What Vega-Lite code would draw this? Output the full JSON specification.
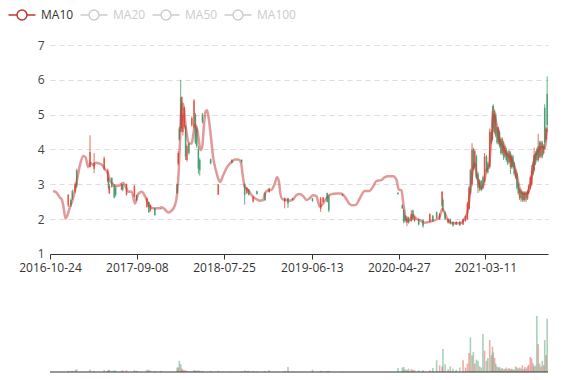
{
  "$schema": "https://vega.github.io/schema/vega-lite/v6.json",
  "width": 498,
  "height": 327,
  "autosize": {"type": "none"},
  "padding": {"left": 50, "top": 45, "right": 29, "bottom": 8},
  "config": {"view": {"stroke": null}, "font": "Open Sans"},
  "datasets": {
    "ma": [
      {"d":"2016-11-04","ma":2.81},{"d":"2016-11-17","ma":2.76},{"d":"2016-11-29","ma":2.62},{"d":"2016-12-06","ma":2.57},{"d":"2016-12-12","ma":2.38},{"d":"2016-12-20","ma":2.02},{"d":"2016-12-26","ma":2.09},
      {"d":"2017-01-05","ma":2.34},{"d":"2017-01-17","ma":2.6},{"d":"2017-01-30","ma":3.07},{"d":"2017-02-11","ma":3.55},{"d":"2017-02-23","ma":3.81},{"d":"2017-03-04","ma":3.77},{"d":"2017-03-13","ma":3.5},{"d":"2017-03-22","ma":3.62},{"d":"2017-04-01","ma":3.55},{"d":"2017-04-10","ma":3.62},{"d":"2017-04-22","ma":3.6},{"d":"2017-05-04","ma":3.55},{"d":"2017-05-14","ma":3.43},{"d":"2017-05-24","ma":3.33},{"d":"2017-06-01","ma":3.12},{"d":"2017-06-13","ma":3.0},{"d":"2017-06-26","ma":2.95},{"d":"2017-07-08","ma":2.98},{"d":"2017-07-20","ma":3.04},{"d":"2017-07-29","ma":2.93},{"d":"2017-08-07","ma":2.79},{"d":"2017-08-20","ma":2.79},{"d":"2017-09-01","ma":2.45},{"d":"2017-09-13","ma":2.72},{"d":"2017-09-26","ma":2.79},{"d":"2017-10-08","ma":2.66},{"d":"2017-10-14","ma":2.55},{"d":"2017-10-26","ma":2.36},{"d":"2017-11-07","ma":2.31},{"d":"2017-11-26","ma":2.31},{"d":"2017-12-08","ma":2.34},{"d":"2017-12-20","ma":2.28},
      {"d":"2018-01-01","ma":2.19},{"d":"2018-01-13","ma":2.24},{"d":"2018-01-26","ma":2.4},{"d":"2018-02-03","ma":2.74},{"d":"2018-02-09","ma":3.41},{"d":"2018-02-13","ma":4.17},{"d":"2018-02-17","ma":4.93},{"d":"2018-02-22","ma":5.32},{"d":"2018-02-27","ma":5.22},{"d":"2018-03-04","ma":4.84},{"d":"2018-03-10","ma":4.46},{"d":"2018-03-18","ma":4.17},{"d":"2018-03-28","ma":4.17},{"d":"2018-04-03","ma":4.41},{"d":"2018-04-09","ma":4.7},{"d":"2018-04-15","ma":4.65},{"d":"2018-04-21","ma":4.41},{"d":"2018-04-30","ma":3.98},{"d":"2018-05-06","ma":4.07},{"d":"2018-05-12","ma":4.65},{"d":"2018-05-18","ma":5.08},{"d":"2018-05-24","ma":5.13},{"d":"2018-05-30","ma":4.89},{"d":"2018-06-07","ma":4.36},{"d":"2018-06-15","ma":3.79},{"d":"2018-06-25","ma":3.41},{"d":"2018-07-06","ma":3.12},{"d":"2018-07-11","ma":3.07},{"d":"2018-07-22","ma":3.26},{"d":"2018-08-06","ma":3.5},{"d":"2018-08-22","ma":3.64},{"d":"2018-09-03","ma":3.71},{"d":"2018-09-15","ma":3.71},{"d":"2018-09-25","ma":3.64},{"d":"2018-10-01","ma":3.31},{"d":"2018-10-09","ma":2.93},{"d":"2018-10-22","ma":2.83},{"d":"2018-10-30","ma":2.74},{"d":"2018-11-09","ma":2.64},{"d":"2018-11-22","ma":2.57},{"d":"2018-12-04","ma":2.53},{"d":"2018-12-16","ma":2.55},{"d":"2018-12-22","ma":2.74},
      {"d":"2019-01-03","ma":2.83},{"d":"2019-01-16","ma":2.85},{"d":"2019-01-28","ma":3.03},{"d":"2019-02-05","ma":3.2},{"d":"2019-02-12","ma":3.07},{"d":"2019-02-17","ma":2.74},{"d":"2019-02-25","ma":2.57},{"d":"2019-03-12","ma":2.55},{"d":"2019-03-24","ma":2.53},{"d":"2019-04-05","ma":2.57},{"d":"2019-04-17","ma":2.69},{"d":"2019-04-29","ma":2.72},{"d":"2019-05-12","ma":2.66},{"d":"2019-05-24","ma":2.55},{"d":"2019-06-05","ma":2.6},{"d":"2019-06-17","ma":2.69},{"d":"2019-06-29","ma":2.66},{"d":"2019-07-12","ma":2.36},{"d":"2019-07-24","ma":2.45},{"d":"2019-08-05","ma":2.6},{"d":"2019-08-24","ma":2.72},{"d":"2019-09-11","ma":2.74},{"d":"2019-09-29","ma":2.74},{"d":"2019-10-12","ma":2.64},{"d":"2019-10-30","ma":2.43},{"d":"2019-11-11","ma":2.4},{"d":"2019-11-23","ma":2.42},{"d":"2019-12-06","ma":2.6},{"d":"2019-12-24","ma":2.81},
      {"d":"2020-01-11","ma":2.81},{"d":"2020-01-23","ma":2.93},{"d":"2020-02-05","ma":3.1},{"d":"2020-02-23","ma":3.12},{"d":"2020-03-06","ma":3.2},{"d":"2020-03-19","ma":3.23},{"d":"2020-04-06","ma":3.23},{"d":"2020-04-18","ma":3.14},{"d":"2020-04-27","ma":2.85},{"d":"2020-05-07","ma":2.83},{"d":"2020-05-12","ma":2.55},{"d":"2020-05-19","ma":2.17},{"d":"2020-05-25","ma":1.97},{"d":"2020-06-06","ma":1.97},{"d":"2020-06-18","ma":2.12},{"d":"2020-06-30","ma":2.02},{"d":"2020-07-13","ma":1.97},{"d":"2020-07-31","ma":1.9},{"d":"2020-08-19","ma":1.93},{"d":"2020-09-06","ma":1.97},{"d":"2020-09-24","ma":2.07},{"d":"2020-10-04","ma":2.3},{"d":"2020-10-13","ma":2.17},{"d":"2020-10-25","ma":1.97},{"d":"2020-11-12","ma":1.88},{"d":"2020-12-07","ma":1.88},{"d":"2020-12-25","ma":2.02},
      {"d":"2021-01-06","ma":2.26},{"d":"2021-01-15","ma":2.83},{"d":"2021-01-24","ma":3.41},{"d":"2021-01-31","ma":3.6},{"d":"2021-02-08","ma":3.21},{"d":"2021-02-16","ma":3.03},{"d":"2021-02-24","ma":2.88},{"d":"2021-03-06","ma":3.03},{"d":"2021-03-15","ma":3.41},{"d":"2021-03-24","ma":3.5},{"d":"2021-04-02","ma":4.36},{"d":"2021-04-08","ma":4.98},{"d":"2021-04-14","ma":4.93},{"d":"2021-04-23","ma":4.65},{"d":"2021-05-02","ma":4.27},{"d":"2021-05-15","ma":4.07},{"d":"2021-05-27","ma":3.88},{"d":"2021-06-08","ma":3.79},{"d":"2021-06-20","ma":3.64},{"d":"2021-07-03","ma":3.31},{"d":"2021-07-15","ma":2.88},{"d":"2021-07-27","ma":2.74},{"d":"2021-08-10","ma":2.74},{"d":"2021-08-20","ma":2.88},{"d":"2021-08-30","ma":3.31},{"d":"2021-09-08","ma":3.79},{"d":"2021-09-16","ma":3.88},{"d":"2021-09-26","ma":4.03},{"d":"2021-10-06","ma":4.07},{"d":"2021-10-15","ma":4.03},{"d":"2021-10-23","ma":4.6}
    ],
    "k": [
      {"d":"2016-12-30","o":2.4,"c":2.7,"h":2.72,"l":2.35,"v":2},
      {"d":"2017-01-09","o":2.55,"c":2.4,"h":2.6,"l":2.35,"v":1},
      {"d":"2017-01-14","o":2.8,"c":2.6,"h":2.85,"l":2.55,"v":2},
      {"d":"2017-01-24","o":2.8,"c":3.0,"h":3.05,"l":2.75,"v":3},
      {"d":"2017-01-30","o":3.4,"c":2.95,"h":3.45,"l":2.9,"v":5},
      {"d":"2017-03-20","o":3.5,"c":3.93,"h":4.41,"l":3.48,"v":4},
      {"d":"2017-04-04","o":3.45,"c":3.62,"h":3.9,"l":3.32,"v":2},
      {"d":"2017-05-11","o":3.45,"c":3.75,"h":3.8,"l":3.4,"v":3},
      {"d":"2017-05-24","o":3.1,"c":3.4,"h":3.45,"l":3.05,"v":2},
      {"d":"2017-05-27","o":3.18,"c":2.9,"h":3.2,"l":2.85,"v":3},
      {"d":"2017-05-30","o":2.75,"c":2.95,"h":3.0,"l":2.72,"v":4},
      {"d":"2017-06-08","o":3.18,"c":2.92,"h":3.2,"l":2.9,"v":2},
      {"d":"2017-06-17","o":2.98,"c":2.62,"h":3.0,"l":2.6,"v":3},
      {"d":"2017-06-22","o":2.9,"c":2.7,"h":2.95,"l":2.65,"v":2},
      {"d":"2017-07-14","o":2.85,"c":3.0,"h":3.02,"l":2.83,"v":2},
      {"d":"2017-07-18","o":3.0,"c":2.85,"h":3.0,"l":2.8,"v":3},
      {"d":"2017-08-01","o":2.7,"c":3.0,"h":3.02,"l":2.68,"v":3},
      {"d":"2017-08-30","o":2.65,"c":2.95,"h":2.98,"l":2.62,"v":3},
      {"d":"2017-09-07","o":2.69,"c":2.55,"h":2.7,"l":2.52,"v":2},
      {"d":"2017-10-15","o":2.35,"c":2.6,"h":2.62,"l":2.33,"v":4},
      {"d":"2017-10-22","o":2.49,"c":2.2,"h":2.5,"l":2.18,"v":4},
      {"d":"2017-10-28","o":2.25,"c":2.4,"h":2.42,"l":2.22,"v":2},
      {"d":"2017-11-13","o":2.31,"c":2.12,"h":2.32,"l":2.1,"v":2},
      {"d":"2017-12-05","o":2.3,"c":2.29,"h":2.31,"l":2.28,"v":2},
      {"d":"2018-02-03","o":3.0,"c":2.75,"h":3.02,"l":2.72,"v":8},
      {"d":"2018-02-07","o":3.6,"c":3.9,"h":3.95,"l":3.55,"v":8},
      {"d":"2018-02-11","o":4.6,"c":4.3,"h":4.65,"l":4.25,"v":20},
      {"d":"2018-02-16","o":5.5,"c":4.6,"h":6.0,"l":4.5,"v":14},
      {"d":"2018-02-20","o":4.6,"c":5.5,"h":5.52,"l":4.5,"v":6},
      {"d":"2018-02-24","o":4.5,"c":5.0,"h":5.05,"l":4.4,"v":4},
      {"d":"2018-03-01","o":4.65,"c":5.2,"h":5.22,"l":4.6,"v":3},
      {"d":"2018-03-06","o":4.65,"c":3.8,"h":4.7,"l":3.7,"v":3},
      {"d":"2018-03-11","o":3.7,"c":4.1,"h":4.15,"l":3.65,"v":2},
      {"d":"2018-03-18","o":4.17,"c":3.9,"h":4.2,"l":3.85,"v":2},
      {"d":"2018-03-29","o":4.7,"c":4.9,"h":4.95,"l":4.65,"v":2},
      {"d":"2018-04-06","o":4.65,"c":5.4,"h":5.45,"l":4.6,"v":3},
      {"d":"2018-04-11","o":5.0,"c":4.2,"h":5.05,"l":4.15,"v":3},
      {"d":"2018-04-16","o":4.6,"c":4.1,"h":4.65,"l":4.05,"v":2},
      {"d":"2018-04-22","o":4.0,"c":3.45,"h":4.1,"l":3.3,"v":3},
      {"d":"2018-04-27","o":3.7,"c":3.4,"h":3.75,"l":3.25,"v":2},
      {"d":"2018-05-07","o":5.0,"c":4.8,"h":5.05,"l":4.75,"v":2},
      {"d":"2018-06-06","o":3.72,"c":3.6,"h":3.74,"l":3.58,"v":2},
      {"d":"2018-07-04","o":2.7,"c":3.0,"h":3.0,"l":2.7,"v":2},
      {"d":"2018-08-23","o":3.7,"c":3.63,"h":3.72,"l":3.6,"v":1},
      {"d":"2018-09-28","o":3.7,"c":3.65,"h":3.72,"l":3.62,"v":1},
      {"d":"2018-10-09","o":3.0,"c":2.7,"h":3.03,"l":2.42,"v":3},
      {"d":"2018-10-17","o":2.75,"c":2.9,"h":2.92,"l":2.72,"v":2},
      {"d":"2018-10-24","o":2.85,"c":2.7,"h":2.87,"l":2.68,"v":2},
      {"d":"2018-11-09","o":2.5,"c":2.64,"h":2.66,"l":2.48,"v":2},
      {"d":"2018-11-23","o":2.8,"c":2.72,"h":2.82,"l":2.7,"v":1},
      {"d":"2018-12-23","o":2.75,"c":2.55,"h":2.77,"l":2.52,"v":2},
      {"d":"2019-01-07","o":2.78,"c":2.88,"h":2.9,"l":2.76,"v":3},
      {"d":"2019-03-05","o":2.5,"c":2.6,"h":2.62,"l":2.31,"v":2},
      {"d":"2019-03-17","o":2.6,"c":2.45,"h":2.62,"l":2.32,"v":9},
      {"d":"2019-04-03","o":2.6,"c":2.56,"h":2.61,"l":2.54,"v":1},
      {"d":"2019-06-15","o":2.6,"c":2.52,"h":2.61,"l":2.5,"v":4},
      {"d":"2019-07-15","o":2.3,"c":2.6,"h":2.64,"l":2.21,"v":2},
      {"d":"2019-07-24","o":2.5,"c":2.62,"h":2.63,"l":2.48,"v":1},
      {"d":"2019-08-08","o":2.75,"c":2.5,"h":2.76,"l":2.48,"v":2},
      {"d":"2019-08-14","o":2.65,"c":2.25,"h":2.7,"l":2.2,"v":2},
      {"d":"2019-10-03","o":2.72,"c":2.68,"h":2.73,"l":2.66,"v":1},
      {"d":"2020-04-24","o":2.75,"c":2.72,"h":2.78,"l":2.7,"v":7},
      {"d":"2020-05-10","o":2.4,"c":2.31,"h":2.42,"l":2.3,"v":8},
      {"d":"2020-05-15","o":2.26,"c":1.93,"h":2.3,"l":1.88,"v":9},
      {"d":"2020-05-20","o":2.1,"c":1.95,"h":2.12,"l":1.9,"v":5},
      {"d":"2020-05-27","o":1.9,"c":2.05,"h":2.09,"l":1.8,"v":4},
      {"d":"2020-06-02","o":2.05,"c":1.9,"h":2.07,"l":1.87,"v":6},
      {"d":"2020-06-12","o":1.95,"c":2.15,"h":2.26,"l":1.93,"v":5},
      {"d":"2020-06-18","o":2.25,"c":2.0,"h":2.27,"l":1.97,"v":4},
      {"d":"2020-06-24","o":1.95,"c":2.05,"h":2.08,"l":1.93,"v":3},
      {"d":"2020-07-09","o":2.0,"c":1.85,"h":2.02,"l":1.82,"v":3},
      {"d":"2020-07-25","o":1.97,"c":1.8,"h":2.0,"l":1.75,"v":3},
      {"d":"2020-08-19","o":1.93,"c":2.15,"h":2.17,"l":1.9,"v":3},
      {"d":"2020-08-30","o":2.1,"c":1.95,"h":2.12,"l":1.92,"v":7},
      {"d":"2020-09-13","o":2.2,"c":2.05,"h":2.22,"l":2.02,"v":21},
      {"d":"2020-09-24","o":2.0,"c":2.15,"h":2.17,"l":1.98,"v":12},
      {"d":"2020-10-03","o":2.4,"c":2.79,"h":2.8,"l":2.35,"v":10},
      {"d":"2020-10-06","o":2.55,"c":2.25,"h":2.6,"l":2.22,"v":41},
      {"d":"2020-10-14","o":2.2,"c":2.0,"h":2.22,"l":1.97,"v":14},
      {"d":"2020-10-25","o":1.9,"c":2.0,"h":2.02,"l":1.87,"v":5},
      {"d":"2020-11-02","o":2.0,"c":1.88,"h":2.02,"l":1.85,"v":10},
      {"d":"2020-11-12","o":1.92,"c":1.82,"h":1.94,"l":1.78,"v":6},
      {"d":"2020-11-24","o":1.85,"c":1.92,"h":1.94,"l":1.83,"v":4},
      {"d":"2020-12-07","o":1.92,"c":1.83,"h":1.95,"l":1.8,"v":8},
      {"d":"2020-12-19","o":1.85,"c":2.0,"h":2.02,"l":1.83,"v":21},
      {"d":"2020-12-28","o":1.95,"c":2.08,"h":2.1,"l":1.93,"v":8},
      {"d":"2021-01-04","o":2.0,"c":2.45,"h":2.5,"l":1.98,"v":15},
      {"d":"2021-01-10","o":2.3,"c":2.9,"h":2.95,"l":2.28,"v":34},
      {"d":"2021-01-15","o":3.4,"c":2.75,"h":3.45,"l":2.7,"v":62},
      {"d":"2021-01-21","o":3.0,"c":4.0,"h":4.18,"l":2.95,"v":30},
      {"d":"2021-01-26","o":4.0,"c":3.45,"h":4.05,"l":3.4,"v":36},
      {"d":"2021-01-31","o":3.5,"c":3.95,"h":4.0,"l":3.45,"v":15},
      {"d":"2021-02-06","o":3.8,"c":3.2,"h":3.85,"l":3.15,"v":22},
      {"d":"2021-02-12","o":3.3,"c":2.9,"h":3.35,"l":2.75,"v":20},
      {"d":"2021-02-18","o":2.85,"c":3.1,"h":3.15,"l":2.8,"v":10},
      {"d":"2021-02-24","o":3.1,"c":2.85,"h":3.12,"l":2.8,"v":8},
      {"d":"2021-03-02","o":3.2,"c":2.9,"h":3.25,"l":2.85,"v":68},
      {"d":"2021-03-08","o":3.1,"c":3.8,"h":3.9,"l":3.05,"v":38},
      {"d":"2021-03-15","o":3.8,"c":3.4,"h":3.85,"l":3.35,"v":20},
      {"d":"2021-03-20","o":3.6,"c":3.35,"h":3.65,"l":3.3,"v":25},
      {"d":"2021-03-27","o":3.5,"c":4.5,"h":4.6,"l":3.45,"v":57},
      {"d":"2021-04-02","o":4.5,"c":4.2,"h":4.55,"l":4.15,"v":30},
      {"d":"2021-04-06","o":4.3,"c":5.1,"h":5.25,"l":4.25,"v":45},
      {"d":"2021-04-09","o":5.25,"c":4.6,"h":5.3,"l":4.5,"v":35},
      {"d":"2021-04-14","o":4.5,"c":5.1,"h":5.15,"l":4.45,"v":25},
      {"d":"2021-04-18","o":5.0,"c":4.4,"h":5.05,"l":4.35,"v":15},
      {"d":"2021-04-23","o":4.6,"c":4.2,"h":4.65,"l":4.15,"v":10},
      {"d":"2021-04-28","o":4.2,"c":4.6,"h":4.65,"l":4.15,"v":8},
      {"d":"2021-05-02","o":4.5,"c":4.1,"h":4.55,"l":4.05,"v":9},
      {"d":"2021-05-07","o":4.3,"c":3.9,"h":4.35,"l":3.85,"v":6},
      {"d":"2021-05-12","o":3.9,"c":4.3,"h":4.35,"l":3.85,"v":7},
      {"d":"2021-05-17","o":4.2,"c":3.8,"h":4.25,"l":3.7,"v":5},
      {"d":"2021-05-22","o":3.8,"c":4.1,"h":4.15,"l":3.75,"v":6},
      {"d":"2021-05-27","o":4.0,"c":3.7,"h":4.05,"l":3.65,"v":8},
      {"d":"2021-06-01","o":3.9,"c":3.6,"h":3.95,"l":3.55,"v":5},
      {"d":"2021-06-06","o":3.65,"c":3.95,"h":4.0,"l":3.6,"v":7},
      {"d":"2021-06-11","o":3.9,"c":3.5,"h":3.95,"l":3.3,"v":5},
      {"d":"2021-06-15","o":3.5,"c":3.8,"h":3.85,"l":3.45,"v":6},
      {"d":"2021-06-20","o":3.8,"c":3.5,"h":3.85,"l":3.45,"v":5},
      {"d":"2021-06-25","o":3.6,"c":3.3,"h":3.65,"l":3.25,"v":4},
      {"d":"2021-06-30","o":3.2,"c":3.4,"h":3.45,"l":3.15,"v":10},
      {"d":"2021-07-05","o":3.3,"c":2.9,"h":3.35,"l":2.85,"v":8},
      {"d":"2021-07-10","o":3.0,"c":2.75,"h":3.05,"l":2.7,"v":6},
      {"d":"2021-07-15","o":2.6,"c":2.85,"h":2.9,"l":2.55,"v":8},
      {"d":"2021-07-20","o":2.8,"c":2.6,"h":2.85,"l":2.5,"v":6},
      {"d":"2021-07-25","o":2.55,"c":2.75,"h":2.8,"l":2.5,"v":12},
      {"d":"2021-07-30","o":2.75,"c":2.55,"h":2.8,"l":2.5,"v":5},
      {"d":"2021-08-03","o":2.55,"c":2.75,"h":2.8,"l":2.5,"v":9},
      {"d":"2021-08-08","o":2.75,"c":2.6,"h":2.8,"l":2.5,"v":6},
      {"d":"2021-08-13","o":2.6,"c":2.8,"h":2.85,"l":2.55,"v":10},
      {"d":"2021-08-17","o":2.75,"c":2.95,"h":3.0,"l":2.7,"v":13},
      {"d":"2021-08-23","o":2.9,"c":3.2,"h":3.25,"l":2.85,"v":27},
      {"d":"2021-08-28","o":3.0,"c":3.4,"h":3.55,"l":2.95,"v":24},
      {"d":"2021-09-02","o":3.6,"c":3.3,"h":3.65,"l":3.25,"v":15},
      {"d":"2021-09-06","o":3.4,"c":3.85,"h":4.05,"l":3.35,"v":10},
      {"d":"2021-09-11","o":3.9,"c":3.6,"h":3.95,"l":3.55,"v":12},
      {"d":"2021-09-16","o":4.0,"c":3.7,"h":4.05,"l":3.65,"v":100},
      {"d":"2021-09-21","o":3.7,"c":4.1,"h":4.45,"l":3.65,"v":50},
      {"d":"2021-09-26","o":4.2,"c":3.8,"h":4.25,"l":3.75,"v":15},
      {"d":"2021-10-01","o":3.8,"c":4.2,"h":4.25,"l":3.75,"v":10},
      {"d":"2021-10-06","o":4.2,"c":3.8,"h":4.25,"l":3.75,"v":20},
      {"d":"2021-10-11","o":3.9,"c":4.1,"h":4.15,"l":3.85,"v":12},
      {"d":"2021-10-15","o":5.2,"c":4.2,"h":5.3,"l":4.0,"v":57},
      {"d":"2021-10-20","o":4.3,"c":4.6,"h":4.65,"l":4.25,"v":30},
      {"d":"2021-10-24","o":5.6,"c":4.7,"h":6.1,"l":4.5,"v":95}
    ],
    "base": [{"z": 0}]
  },
  "layer": [
    {
      "layer": [
        {
          "data": {"name": "k"},
          "mark": {"type": "rule", "strokeWidth": 1, "opacity": 0.8},
          "encoding": {
            "x": {
              "field": "d", "type": "temporal",
              "scale": {"type": "utc", "domain": [{"year": 2016, "month": 10, "date": 24, "utc": true}, {"year": 2021, "month": 10, "date": 27, "utc": true}]},
              "axis": {
                "title": null, "offset": -118,
                "values": [
                  {"year": 2016, "month": 10, "date": 24, "utc": true},
                  {"year": 2017, "month": 9, "date": 8, "utc": true},
                  {"year": 2018, "month": 7, "date": 25, "utc": true},
                  {"year": 2019, "month": 6, "date": 13, "utc": true},
                  {"year": 2020, "month": 4, "date": 27, "utc": true},
                  {"year": 2021, "month": 3, "date": 11, "utc": true}
                ],
                "format": "%Y-%m-%d", "grid": false,
                "domainColor": "#333", "tickColor": "#333", "tickSize": 5,
                "labelColor": "#333", "labelFontSize": 12, "labelPadding": 3,
                "labelFlush": false, "labelOverlap": false
              }
            },
            "y": {
              "field": "l", "type": "quantitative",
              "scale": {"domain": [-2.388, 7], "nice": false, "zero": false},
              "axis": {
                "title": null, "values": [1, 2, 3, 4, 5, 6, 7],
                "domain": false, "ticks": false, "labelPadding": 6,
                "labelColor": "#444", "labelFontSize": 12,
                "grid": true, "gridColor": "#ddd", "gridDash": [5, 4]
              }
            },
            "y2": {"field": "h"},
            "color": {"condition": {"test": "datum.c >= datum.o", "value": "#e04a3b"}, "value": "#3f9a68"}
          }
        },
        {
          "data": {"name": "k"},
          "mark": {"type": "rule", "strokeWidth": 1.6, "opacity": 0.8},
          "encoding": {
            "x": {"field": "d", "type": "temporal"},
            "y": {"field": "o", "type": "quantitative"},
            "y2": {"field": "c"},
            "color": {"condition": {"test": "datum.c >= datum.o", "value": "#e04a3b"}, "value": "#3f9a68"}
          }
        },
        {
          "data": {"name": "ma"},
          "mark": {"type": "line", "strokeWidth": 2.5, "strokeOpacity": 0.5, "interpolate": "monotone"},
          "encoding": {
            "x": {"field": "d", "type": "temporal"},
            "y": {"field": "ma", "type": "quantitative"},
            "color": {
              "datum": "MA10",
              "scale": {"domain": ["MA10", "MA20", "MA50", "MA100"], "range": ["#c23531", "#ccc", "#ccc", "#ccc"]},
              "legend": {
                "title": null, "orient": "none", "direction": "horizontal",
                "legendX": -39, "legendY": -41, "padding": 0,
                "symbolType": "M-1.35,0L-0.5,0M0.5,0L1.35,0M0.5,0A0.5,0.5,0,1,1,-0.5,0A0.5,0.5,0,1,1,0.5,0",
                "symbolSize": 400, "symbolStrokeWidth": 1.5, "symbolFillColor": "#fff", "symbolOpacity": 1,
                "labelFontSize": 12, "labelOffset": 8, "columnPadding": 3,
                "encode": {"labels": {"update": {"fill": {"signal": "datum.value === 'MA10' ? '#333' : '#ccc'"}}}}
              }
            }
          }
        }
      ]
    },
    {
      "layer": [
        {
          "data": {"name": "k"},
          "mark": {"type": "rule", "strokeWidth": 1.6, "opacity": 0.45},
          "encoding": {
            "x": {"field": "d", "type": "temporal"},
            "y": {"field": "v", "type": "quantitative", "scale": {"domain": [0, 584], "nice": false}, "axis": null},
            "y2": {"datum": 0},
            "color": {"condition": {"test": "datum.c >= datum.o", "value": "#e04a3b"}, "value": "#3f9a68"}
          }
        },
        {
          "data": {"name": "base"},
          "mark": {"type": "rule", "color": "#333", "strokeWidth": 1},
          "encoding": {"y": {"field": "z", "type": "quantitative"}}
        }
      ]
    }
  ],
  "resolve": {"scale": {"y": "independent"}}
}
